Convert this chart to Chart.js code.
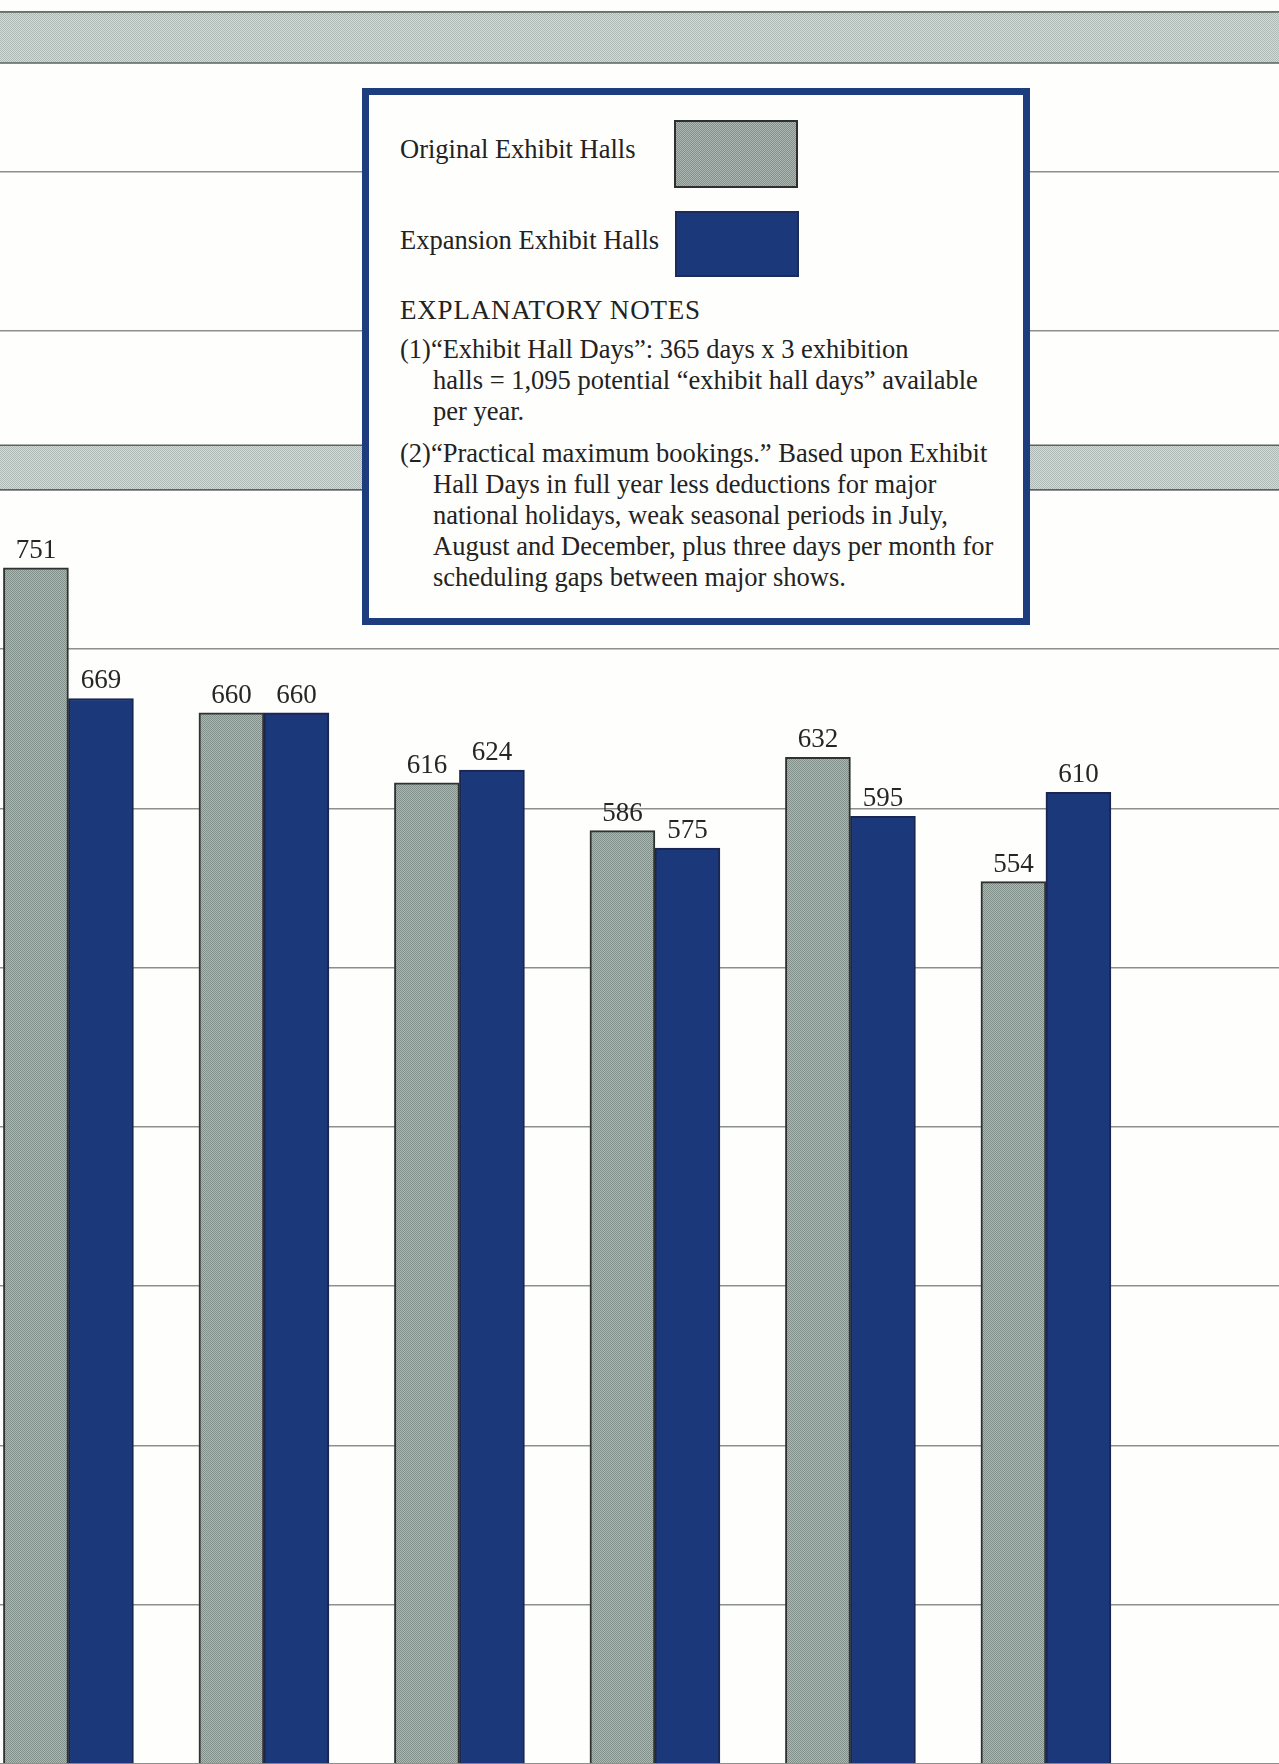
<!DOCTYPE html>
<html>
<head>
<meta charset="utf-8">
<script src="https://cdn.jsdelivr.net/npm/chart.js@4.4.1/dist/chart.umd.min.js"></script>
<style>
  html, body { margin: 0; padding: 0; background: #fefefd; overflow: hidden; }
  #wrap { position: relative; width: 1279px; height: 1764px; }
  #chart { position: absolute; left: 0; top: 0; }
  .key {
    position: absolute; left: 362px; top: 88px; width: 668px; height: 537px;
    box-sizing: border-box; border: 7px solid #1d3d7f; background: #fefefd;
    font-family: 'Liberation Serif', 'Times New Roman', serif; font-size: 26.5px;
    color: #222; line-height: 31px;
  }
  .key div { position: absolute; white-space: nowrap; }
  .key .title { font-size: 27px; letter-spacing: 0.8px; }
  .swatch { border: 2px solid #2c302f; box-sizing: border-box; }
  .sw-gray { background: repeating-conic-gradient(#82908b 0 25%, #acb6b2 0 50%) 0 0 / 2px 2px; }
  .sw-navy { background: #1b397a; border-color: #1b2c5a; }
</style>
</head>
<body>
<div id="wrap">
  <canvas id="chart" width="1279" height="1764"></canvas>
  <div class="key" id="key"></div>
</div>
<script>
// exhibit hall days booked, per period
const periods   = ['Period 1', 'Period 2', 'Period 3', 'Period 4', 'Period 5', 'Period 6'];
const original  = [751, 660, 616, 586, 632, 554];
const expansion = [669, 660, 624, 575, 595, 610];

// shaded reference bands (hall-day ranges)
const bandFrom = [1068, 800];
const bandTo   = [1100, 828];

const seriesNames = ['Original Exhibit Halls', 'Expansion Exhibit Halls'];

const NAVY = '#1b397a';

// fine checker to imitate the printed halftone
function halftone(dark, light) {
  const c = document.createElement('canvas');
  c.width = 2; c.height = 2;
  const g = c.getContext('2d');
  g.fillStyle = light; g.fillRect(0, 0, 2, 2);
  g.fillStyle = dark; g.fillRect(0, 0, 1, 1); g.fillRect(1, 1, 1, 1);
  return g.createPattern(c, 'repeat');
}
const grayFill = halftone('#82908b', '#acb6b2');
const bandFill = halftone('#aeb8b4', '#d4dad7');

const bandsPlugin = {
  id: 'bands',
  beforeDatasetsDraw(chart) {
    const { ctx, chartArea, scales } = chart;
    ctx.save();
    bandFrom.forEach((lo, i) => {
      const top = scales.y.getPixelForValue(bandTo[i]);
      const bot = scales.y.getPixelForValue(lo);
      ctx.fillStyle = bandFill;
      ctx.fillRect(chartArea.left, top, chartArea.right - chartArea.left, bot - top);
      ctx.strokeStyle = '#5c615f';
      ctx.lineWidth = 1.5;
      ctx.beginPath();
      ctx.moveTo(chartArea.left, top); ctx.lineTo(chartArea.right, top);
      ctx.moveTo(chartArea.left, bot); ctx.lineTo(chartArea.right, bot);
      ctx.stroke();
    });
    ctx.restore();
  },
};

const valueLabels = {
  id: 'valueLabels',
  afterDatasetsDraw(chart) {
    const { ctx } = chart;
    ctx.save();
    ctx.font = '27px "Liberation Serif", serif';
    ctx.fillStyle = '#262626';
    ctx.textAlign = 'center';
    ctx.textBaseline = 'alphabetic';
    chart.data.datasets.forEach((ds, di) => {
      chart.getDatasetMeta(di).data.forEach((bar, i) => {
        ctx.fillText(String(ds.data[i].y), bar.x, bar.y - 10);
      });
    });
    ctx.restore();
  },
};

const toPoints = arr => arr.map((v, i) => ({ x: i, y: v }));

new Chart(document.getElementById('chart'), {
  type: 'bar',
  data: {
    datasets: [
      {
        label: seriesNames[0],
        data: toPoints(original),
        backgroundColor: grayFill,
        borderColor: '#2e3231',
        borderWidth: 2,
      },
      {
        label: seriesNames[1],
        data: toPoints(expansion),
        backgroundColor: NAVY,
        borderColor: '#1a2550',
        borderWidth: 2,
      },
    ],
  },
  options: {
    responsive: false,
    animation: false,
    devicePixelRatio: 1,
    barThickness: 65,
    layout: { padding: { top: 12, left: 0, right: 0, bottom: 0 } },
    plugins: {
      legend: { display: false },
      tooltip: {
        callbacks: { title: items => periods[items[0].dataIndex] },
      },
    },
    scales: {
      x: {
        type: 'linear',
        min: -0.35,
        max: 6.1922,
        offset: false,
        display: false,
      },
      y: {
        min: 0,
        max: 1100,
        ticks: { display: false, stepSize: 100 },
        grid: { color: '#8b908d', lineWidth: 1.5, drawTicks: false },
        border: { display: false },
      },
    },
  },
  plugins: [bandsPlugin, valueLabels],
});

// key box with the explanatory notes
const key = document.getElementById('key');
const place = (html, left, top, cls, w, h) => {
  const d = document.createElement('div');
  d.innerHTML = html;
  d.style.left = left + 'px';
  d.style.top = top + 'px';
  if (cls) d.className = cls;
  if (w) { d.style.width = w + 'px'; d.style.height = h + 'px'; }
  key.appendChild(d);
};
place(seriesNames[0], 31, 39);
place('', 305, 25, 'swatch sw-gray', 124, 68);
place(seriesNames[1], 31, 130);
place('', 306, 116, 'swatch sw-navy', 124, 66);
place('EXPLANATORY NOTES', 31, 200, 'title');
const note1 = [
  '(1)\u201CExhibit Hall Days\u201D: 365 days x 3 exhibition',
  'halls = 1,095 potential \u201Cexhibit hall days\u201D available',
  'per year.',
];
const note2 = [
  '(2)\u201CPractical maximum bookings.\u201D Based upon Exhibit',
  'Hall Days in full year less deductions for major',
  'national holidays, weak seasonal periods in July,',
  'August and December, plus three days per month for',
  'scheduling gaps between major shows.',
];
note1.forEach((t, i) => place(t, i ? 64 : 31, 239 + i * 31));
note2.forEach((t, i) => place(t, i ? 64 : 31, 343 + i * 31));
</script>
</body>
</html>
